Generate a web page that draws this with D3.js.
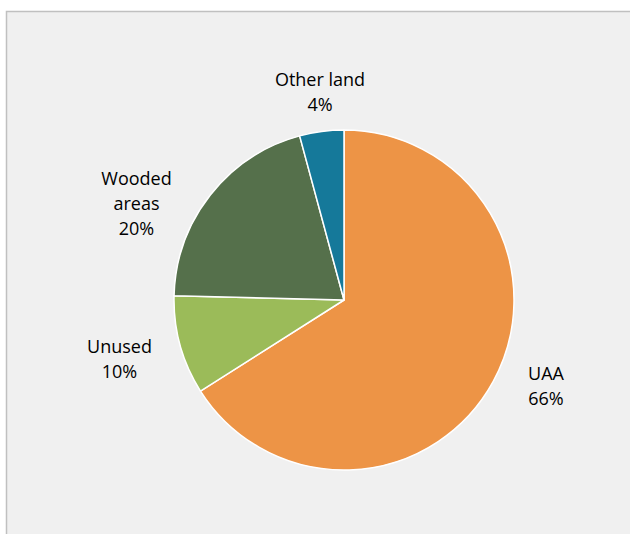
<!DOCTYPE html>
<html><head><meta charset="utf-8">
<script src="https://cdn.jsdelivr.net/npm/d3@7"></script>
<style>body{margin:0;background:#fff;}svg{display:block;}</style>
</head><body>
<svg id="chart" width="630" height="534"></svg>
<script>
const categories = ["UAA", "Unused", "Wooded areas", "Other land"];
const values = [66.0, 9.4, 20.4, 4.2];
const percentLabels = ["66%", "10%", "20%", "4%"];
const nameLines = [["UAA"], ["Unused"], ["Wooded", "areas"], ["Other land"]];
const colors = ["#ED9446", "#9BBB59", "#55704B", "#15799A"];

const svg = d3.select("#chart");
svg.append("rect").attr("x", 6.5).attr("y", 11.5).attr("width", 640).attr("height", 540)
  .attr("fill", "#f0f0f0").attr("stroke", "#c0c0c0").attr("stroke-width", 1.5);

const cx = 344, cy = 300, r = 170;
const pie = d3.pie().sort(null).value(d => d);
const arcs = pie(values);
const arc = d3.arc().innerRadius(0).outerRadius(r);
const g = svg.append("g").attr("transform", `translate(${cx},${cy})`);
g.selectAll("path").data(arcs).join("path")
  .attr("d", arc).attr("fill", (d, i) => colors[i])
  .attr("stroke", "#fff").attr("stroke-width", 1.5).attr("stroke-linejoin", "round");

// label anchor (center x, first baseline y)
const labelPos = [[546, 380], [119.5, 352.5], [136.5, 184.5], [320, 86]];
const lh = 25.3;
categories.forEach((c, i) => {
  const lines = nameLines[i].concat([percentLabels[i]]);
  const t = svg.append("text").attr("text-anchor", "middle")
    .attr("font-family", "'Open Sans', sans-serif").attr("font-size", 18).attr("fill", "#000");
  lines.forEach((s, j) => {
    t.append("tspan").attr("x", labelPos[i][0]).attr("y", labelPos[i][1] + j * lh).text(s);
  });
});
</script>
</body></html>
